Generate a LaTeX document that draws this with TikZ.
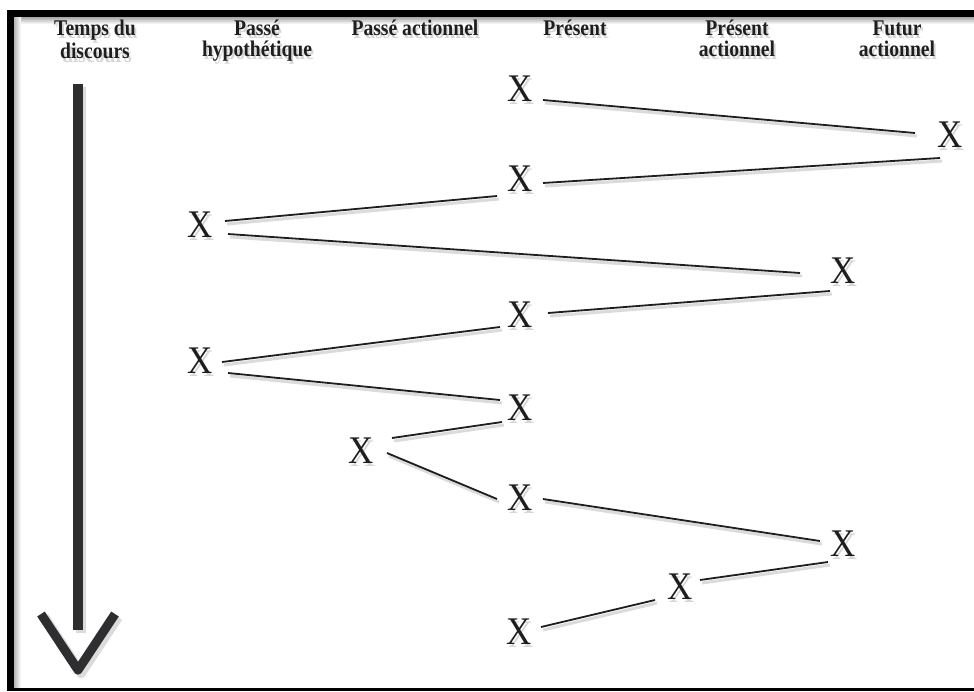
\documentclass[tikz,border=0pt]{standalone}
\usepackage{fontspec}
\usepackage{graphicx}
\setmainfont{Liberation Serif}
\definecolor{ink}{HTML}{1E1E1E}
\definecolor{arrowc}{HTML}{2E2E31}
\newcommand\shd[1]{\leavevmode\rlap{\kern2pt\raisebox{-3pt}{\textcolor{black!16}{#1}}}#1}
\newcommand\tall[1]{\scalebox{0.98}[1.12]{#1}}
\newcommand\xmark{\scalebox{0.92}[1.03]{\shd{X}}}
\begin{document}
\begin{tikzpicture}[x=1pt,y=-1pt,
  head/.style={inner sep=0pt, anchor=base, text=ink,
    font=\fontsize{20}{17}\selectfont\bfseries},
  xn/.style={inner sep=0pt, text=ink, font=\fontsize{38}{38}\selectfont},
  conn/.style={draw=ink, line width=1.8pt},
  connshadow/.style={draw=black!14, line width=3pt}]
\useasboundingbox (0,0) rectangle (974,691);
\fill[white] (0,0) rectangle (974,691);
% frame
\shade[top color=black!35, bottom color=white] (14,17) rectangle (974,24);
\shade[left color=black!30, right color=white] (14,17) rectangle (21,688);
\fill[black] (7,10) rectangle (974,17);
\fill[black] (7,10) rectangle (14,691);
\fill[black] (7,688) rectangle (974,691);
% headers
\node[head] (h1) at (95,35) {\tall{\begin{tabular}[t]{@{}c@{}}\shd{Temps du}\\\shd{discours}\end{tabular}}};
\node[head] (h2) at (257,35) {\tall{\begin{tabular}[t]{@{}c@{}}\shd{Passé}\\\shd{hypothétique}\end{tabular}}};
\node[head] (h3) at (415,35) {\tall{\shd{Passé actionnel}}};
\node[head] (h4) at (575,35) {\tall{\shd{Présent}}};
\node[head] (h5) at (737,35) {\tall{\begin{tabular}[t]{@{}c@{}}\shd{Présent}\\\shd{actionnel}\end{tabular}}};
\node[head] (h6) at (897,35) {\tall{\begin{tabular}[t]{@{}c@{}}\shd{Futur}\\\shd{actionnel}\end{tabular}}};
% time arrow
\begin{scope}[transform canvas={xshift=3pt,yshift=-3pt}]
\fill[black!14] (73,84) rectangle (83,630);
\draw[black!14, line width=10pt, line join=round] (41,614) -- (78,670) -- (115,614);
\end{scope}
\fill[arrowc] (73,84) rectangle (83,630);
\draw[arrowc, line width=9pt, line join=round] (41,614) -- (78,670) -- (115,614);
% X nodes
\node[xn] (x1) at (520,90) {\xmark};
\node[xn] (x2) at (950,136) {\xmark};
\node[xn] (x3) at (520,180) {\xmark};
\node[xn] (x4) at (200,226) {\xmark};
\node[xn] (x5) at (843,272) {\xmark};
\node[xn] (x6) at (520,316) {\xmark};
\node[xn] (x7) at (200,362) {\xmark};
\node[xn] (x8) at (520,409) {\xmark};
\node[xn] (x9) at (361,452) {\xmark};
\node[xn] (x10) at (520,499) {\xmark};
\node[xn] (x11) at (843,545) {\xmark};
\node[xn] (x12) at (680,588) {\xmark};
\node[xn] (x13) at (519,633) {\xmark};
\def\connlist{x1/23/10/x2/-35/-3, x2/-10/22/x3/23/3, x3/-23/16/x4/25/-5,
  x4/28/8/x5/-43/1, x5/-13/19/x6/28/-3, x6/-20/11/x7/22/0,
  x7/28/11/x8/-20/-9, x8/-18/13/x9/31/-14, x9/26/1/x10/-23/0,
  x10/23/0/x11/-23/-4, x11/-15/17/x12/20/-8, x12/-25/12/x13/22/-6}
\begin{scope}[transform canvas={xshift=2pt,yshift=-3pt}]
\foreach \a/\ax/\ay/\b/\bx/\by in \connlist
  \draw[connshadow] ([shift={(\ax,\ay)}]\a.center) -- ([shift={(\bx,\by)}]\b.center);
\end{scope}
\foreach \a/\ax/\ay/\b/\bx/\by in \connlist
  \draw[conn] ([shift={(\ax,\ay)}]\a.center) -- ([shift={(\bx,\by)}]\b.center);
\end{tikzpicture}
\end{document}
